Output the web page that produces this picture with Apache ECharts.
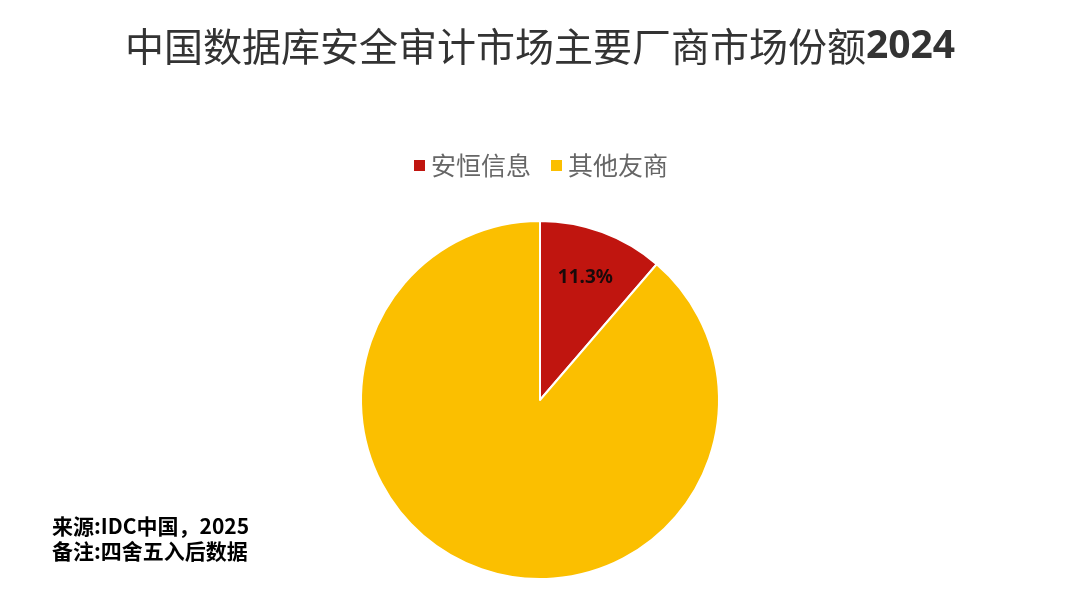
<!DOCTYPE html>
<html><head><meta charset="utf-8">
<script src="https://cdn.jsdelivr.net/npm/echarts@6/dist/echarts.min.js"></script>
<style>html,body{margin:0;padding:0;background:#fff;}#c{width:1080px;height:614px;}</style>
</head><body><div id="c"></div>
<script>
const titleMain = '中国数据库安全审计市场主要厂商市场份额';
const titleYear = '2024';
const categories = ['安恒信息', '其他友商'];
const values = [11.3, 88.7];
const colors = ['#C0150F', '#FBBF00'];
const notes = ['来源:IDC中国，2025', '备注:四舍五入后数据'];

const chart = echarts.init(document.getElementById('c'));
const data = categories.map((n, i) => ({name: n, value: values[i], itemStyle: {color: colors[i]}}));
chart.setOption({
  backgroundColor: '#fff',
  animation: false,
  title: {
    text: '{a|' + titleMain + '}{b|' + titleYear + '}', left: 'center', top: 22,
    textStyle: {
      rich: {
        a: {fontFamily: 'Noto Sans CJK SC', fontSize: 39, fontWeight: 'normal', color: '#333'},
        b: {fontFamily: 'Noto Sans', fontSize: 39, fontWeight: 'bold', color: '#333'}
      }
    }
  },
  legend: {
    data: categories, top: 148, left: 'center', icon: 'rect', itemWidth: 13, itemHeight: 13, itemGap: 18,
    textStyle: {fontFamily: 'Noto Sans CJK SC', fontSize: 25, color: '#666'}
  },
  graphic: notes.map((t, i) => ({
    type: 'text', left: 52, top: 516 + i * 25,
    style: {text: t, fontFamily: 'Noto Sans CJK SC', fontSize: 21, fontWeight: 'bold', fill: '#000'}
  })),
  series: [
    {
      type: 'pie', radius: [0, 179], center: [540, 400], startAngle: 90, clockwise: true,
      label: {show: false}, labelLine: {show: false},
      itemStyle: {borderColor: '#fff', borderWidth: 2},
      data: data
    },
    {
      type: 'pie', radius: [76, 179], center: [540, 400], startAngle: 90, clockwise: true, silent: true,
      legendHoverLink: false,
      itemStyle: {color: 'rgba(0,0,0,0)', borderWidth: 0},
      labelLine: {show: false},
      label: {show: true, position: 'inside', formatter: p => p.dataIndex === 0 ? p.value + '%' : '',
        fontFamily: 'Noto Sans', fontSize: 19, fontWeight: 'bold', color: '#1a0a0a'},
      data: categories.map((n, i) => ({name: n + ' ', value: values[i]}))
    }
  ]
});
</script></body></html>
